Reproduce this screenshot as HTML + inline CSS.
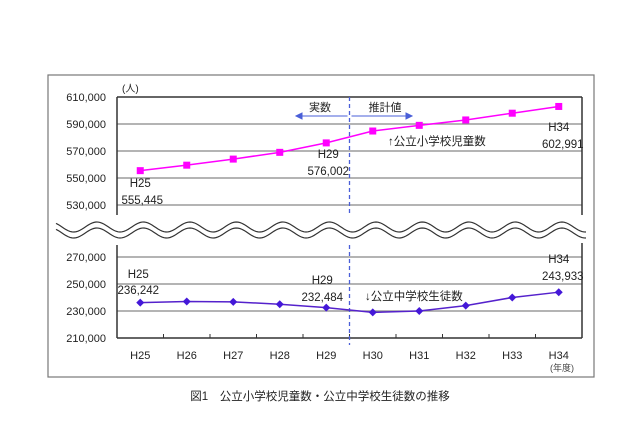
<!DOCTYPE html>
<html><head><meta charset="utf-8"><style>
body{margin:0;background:#fff;}
svg{display:block;font-family:"Liberation Sans","Noto Sans CJK JP",sans-serif;}
</style></head><body>
<svg width="640" height="426" viewBox="0 0 640 426">
<rect x="48" y="75" width="546" height="302" fill="#fff" stroke="#777" stroke-width="1.2"/>
<g id="g"></g>
<text x="320" y="400" font-size="11.5" text-anchor="middle" fill="#222">図1　公立小学校児童数・公立中学校生徒数の推移</text>
</svg>
<script>
const categories=["H25","H26","H27","H28","H29","H30","H31","H32","H33","H34"];
const elementary=[555445,559500,564000,569000,576002,584800,589000,593000,598000,602991];
const juniorHigh=[236242,237000,236800,235000,232484,229000,230000,234000,240000,243933];
const upperTicks=[530000,550000,570000,590000,610000];
const lowerTicks=[210000,230000,250000,270000];
const fmt=v=>v.toLocaleString('en-US');
const NS="http://www.w3.org/2000/svg",g=document.getElementById('g');
function mk(t,a,txt){const e=document.createElementNS(NS,t);for(const k in a)e.setAttribute(k,a[k]);if(txt!=null)e.textContent=txt;g.appendChild(e);return e;}
const L=117,R=582,bw=(R-L)/categories.length;
const x=i=>L+bw*(i+0.5);
const yU=v=>97+(610000-v)/20000*27;
const yL=v=>338-(v-210000)/20000*27;
upperTicks.forEach(t=>{const y=yU(t);const top=t===610000;
const l=mk('line',{x1:L,x2:R,y1:y,y2:y,stroke:top?'#333':'#888','stroke-width':top?1.5:1.2});

const tx=mk('text',{x:L-11,y:y+4,'font-size':11,'text-anchor':'end',fill:'#222'},fmt(t));
});
lowerTicks.forEach(t=>{const y=yL(t);
const l=mk('line',{x1:L,x2:R,y1:y,y2:y,stroke:t===210000?'#333':'#888','stroke-width':t===210000?1.5:1.2});

const tx=mk('text',{x:L-11,y:y+4,'font-size':11,'text-anchor':'end',fill:'#222'},fmt(t));
});
let a=mk('line',{x1:L,x2:L,y1:97,y2:215,stroke:'#333','stroke-width':1.5});
a=mk('line',{x1:R,x2:R,y1:97,y2:215,stroke:'#333','stroke-width':1.5});
a=mk('line',{x1:L,x2:L,y1:245,y2:338,stroke:'#333','stroke-width':1.5});
a=mk('line',{x1:R,x2:R,y1:243,y2:338,stroke:'#333','stroke-width':1.5});
a=mk('text',{x:122,y:92,'font-size':10,fill:'#222'},'(人)');
let d1='',d2='';for(let xx=56;xx<=586;xx+=2){const yy=230+5*Math.sin((xx-62)/46.5*2*Math.PI);d1+=(xx===56?'M':'L')+xx+','+(yy-3);d2+=(xx===56?'M':'L')+xx+','+(yy+3);}
a=mk('path',{d:d1,fill:'none',stroke:'#333','stroke-width':1.2});
a=mk('path',{d:d2,fill:'none',stroke:'#333','stroke-width':1.2});
categories.forEach((c,i)=>{const t=mk('text',{x:x(i),y:359,'font-size':11,'text-anchor':'middle',fill:'#222'},c);

const tk=mk('line',{x1:L+bw*i,x2:L+bw*i,y1:334,y2:338,stroke:'#333'});});
a=mk('text',{x:550,y:371,'font-size':9,fill:'#444'},'(年度)');
const dx=L+bw*5;
a=mk('line',{x1:dx,x2:dx,y1:97,y2:215,stroke:'#4a5fd8','stroke-width':1.3,'stroke-dasharray':'4,3'});
a=mk('line',{x1:dx,x2:dx,y1:245,y2:345,stroke:'#4a5fd8','stroke-width':1.3,'stroke-dasharray':'4,3'});
a=mk('path',{d:`M${dx-2},116 L296,116 M296,116 l6,-3 l0,6 z`,stroke:'#4a5fd8',fill:'#4a5fd8','stroke-width':1});
a=mk('path',{d:`M${dx+2},116 L412,116 M412,116 l-6,-3 l0,6 z`,stroke:'#4a5fd8',fill:'#4a5fd8','stroke-width':1});
a=mk('text',{x:320,y:111,'font-size':11,'text-anchor':'middle',fill:'#222'},'実数');
a=mk('text',{x:385,y:111,'font-size':11,'text-anchor':'middle',fill:'#222'},'推計値');
let p=mk('polyline',{points:elementary.map((v,i)=>x(i)+','+yU(v)).join(' '),fill:'none',stroke:'#ff00ff','stroke-width':1.5});

elementary.forEach((v,i)=>{const r=mk('rect',{x:x(i)-3.5,y:yU(v)-3.5,width:7,height:7,fill:'#ff00ff'});});
p=mk('polyline',{points:juniorHigh.map((v,i)=>x(i)+','+yL(v)).join(' '),fill:'none',stroke:'#5522cc','stroke-width':1.5});

juniorHigh.forEach((v,i)=>{const X=x(i),Y=yL(v);const r=mk('path',{d:`M${X},${Y-4} L${X+4},${Y} L${X},${Y+4} L${X-4},${Y} Z`,fill:'#4418d8'});});
function lab(t,X,Y,n,anc){const e=mk('text',{x:X,y:Y,'font-size':11.5,'text-anchor':anc||'middle',fill:'#222'},t);}
lab('H25',x(0),187,'label-elem-h25-year');lab(fmt(elementary[0]),x(0)+2,204,'label-elem-h25-value');
lab('H29',x(4)+2,158,'label-elem-h29-year');lab(fmt(elementary[4]),x(4)+2,175,'label-elem-h29-value');
lab('H34',x(9),131,'label-elem-h34-year');lab(fmt(elementary[9]),x(9)+4,148,'label-elem-h34-value');
lab('↑公立小学校児童数',388,145,'elementary-series-label','start');
lab('H25',x(0)-2,278,'label-jh-h25-year');lab(fmt(juniorHigh[0]),x(0)-2,294,'label-jh-h25-value');
lab('H29',x(4)-4,284,'label-jh-h29-year');lab(fmt(juniorHigh[4]),x(4)-4,301,'label-jh-h29-value');
lab('H34',x(9),263,'label-jh-h34-year');lab(fmt(juniorHigh[9]),x(9)+4,280,'label-jh-h34-value');
lab('↓公立中学校生徒数',365,300,'junior-high-series-label','start');
</script>
</body></html>
